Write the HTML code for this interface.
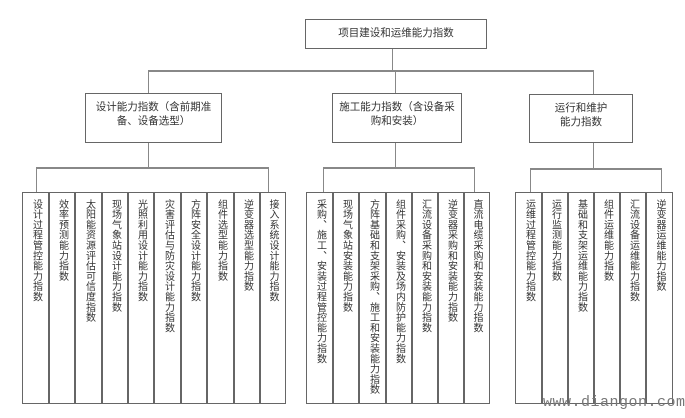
<!DOCTYPE html>
<html><head><meta charset="utf-8"><style>
body{margin:0;width:685px;height:418px;background:#fff;position:relative;overflow:hidden;font-family:"Liberation Sans","Noto Sans CJK SC",sans-serif;color:#333}
.b{position:absolute;border:1.5px solid #666;box-sizing:border-box;background:#fff;font-size:10.5px;text-align:center}
.l{position:absolute;background:#888}
.c{position:absolute;top:192px;height:212px;border:1.5px solid #666;box-sizing:border-box;writing-mode:vertical-rl;font-size:10px;letter-spacing:0.3px;padding-top:6px;line-height:26px;text-align:start;white-space:nowrap}
</style></head><body>
<div class="l" style="left:392px;top:49px;width:1px;height:22px"></div>
<div class="l" style="left:148px;top:70px;width:446px;height:1.5px"></div>
<div class="l" style="left:148px;top:70px;width:1px;height:24px"></div>
<div class="l" style="left:395px;top:70px;width:1px;height:24px"></div>
<div class="l" style="left:593px;top:70px;width:1px;height:24px"></div>
<div class="b" style="left:305px;top:19px;width:182px;height:30px;line-height:26px">项目建设和运维能力指数</div>
<div class="b" style="left:85px;top:93px;width:137px;height:50px;padding-top:6px;line-height:14px">设计能力指数（含前期准<br>备、设备选型）</div>
<div class="b" style="left:332px;top:93px;width:130px;height:50px;padding-top:6px;line-height:14px">施工能力指数（含设备采<br>购和安装）</div>
<div class="b" style="left:529px;top:94px;width:104px;height:49px;padding-top:6px;line-height:14px">运行和维护<br>能力指数</div>
<div class="l" style="left:148px;top:143px;width:1px;height:24px"></div>
<div class="l" style="left:395px;top:143px;width:1px;height:24px"></div>
<div class="l" style="left:593px;top:143px;width:1px;height:25px"></div>
<div class="l" style="left:36px;top:167px;width:233px;height:1.5px"></div>
<div class="l" style="left:36px;top:167px;width:1px;height:25px"></div>
<div class="l" style="left:268px;top:167px;width:1px;height:25px"></div>
<div class="l" style="left:323px;top:167px;width:152px;height:1.5px"></div>
<div class="l" style="left:323px;top:167px;width:1px;height:25px"></div>
<div class="l" style="left:474px;top:167px;width:1px;height:25px"></div>
<div class="l" style="left:530px;top:168px;width:132px;height:1.5px"></div>
<div class="l" style="left:530px;top:168px;width:1px;height:24px"></div>
<div class="l" style="left:661px;top:168px;width:1px;height:24px"></div>

<div class="c" style="left:22px;width:27.5px">设计过程管控能力指数</div>
<div class="c" style="left:48px;width:27.5px">效率预测能力指数</div>
<div class="c" style="left:74px;width:28.5px">太阳能资源评估可信度指数</div>
<div class="c" style="left:101px;width:27.5px">现场气象站设计能力指数</div>
<div class="c" style="left:127px;width:27.5px">光照利用设计能力指数</div>
<div class="c" style="left:153px;width:28.5px">灾害评估与防灾设计能力指数</div>
<div class="c" style="left:180px;width:27.5px">方阵安全设计能力指数</div>
<div class="c" style="left:206px;width:28.5px">组件选型能力指数</div>
<div class="c" style="left:233px;width:27.5px">逆变器选型能力指数</div>
<div class="c" style="left:259px;width:27px">接入系统设计能力指数</div>

<div class="c" style="left:306px;width:27.5px">采购、施工、安装过程管控能力指数</div>
<div class="c" style="left:332px;width:27.5px">现场气象站安装能力指数</div>
<div class="c" style="left:358px;width:28.5px">方阵基础和支架采购、施工和安装能力指数</div>
<div class="c" style="left:385px;width:27.5px">组件采购、安装及场内防护能力指数</div>
<div class="c" style="left:411px;width:27.5px">汇流设备采购和安装能力指数</div>
<div class="c" style="left:437px;width:27.5px">逆变器采购和安装能力指数</div>
<div class="c" style="left:463px;width:27px">直流电缆采购和安装能力指数</div>

<div class="c" style="left:515px;width:27.5px">运维过程管控能力指数</div>
<div class="c" style="left:541px;width:27.5px">运行监测能力指数</div>
<div class="c" style="left:567px;width:27.5px">基础和支架运维能力指数</div>
<div class="c" style="left:593px;width:27.5px">组件运维能力指数</div>
<div class="c" style="left:619px;width:27.5px">汇流设备运维能力指数</div>
<div class="c" style="left:645px;width:28px">逆变器运维能力指数</div>

<div style="position:absolute;left:543px;top:394px;font-family:'Liberation Mono',monospace;font-size:15px;color:#777;letter-spacing:0.5px">www.diangon.com</div>
</body></html>
